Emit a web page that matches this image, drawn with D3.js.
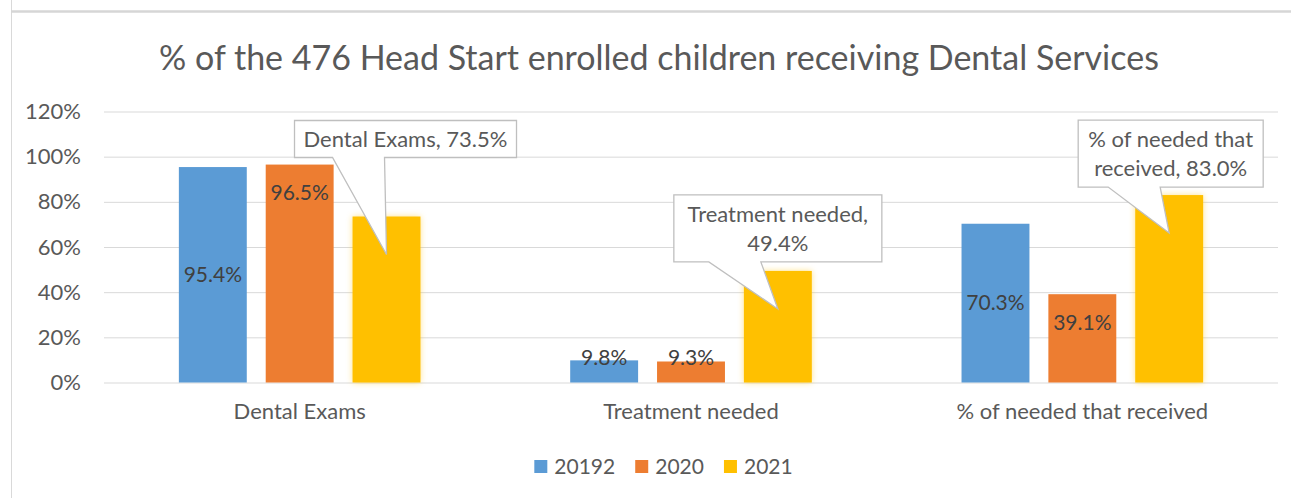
<!DOCTYPE html>
<html>
<head>
<meta charset="utf-8">
<script src="https://cdn.jsdelivr.net/npm/d3@7"></script>
<style>
  body { margin: 0; background: #fff; }
  svg { display: block; }
  text { font-family: Lato, "Open Sans", sans-serif; }
</style>
</head>
<body>
<div id="chart"></div>
<script>
const title = '% of the 476 Head Start enrolled children receiving Dental Services';
const categories = ['Dental Exams', 'Treatment needed', '% of needed that received'];
const years = ['20192', '2020', '2021'];
const values2019 = [95.4, 9.8, 70.3];
const values2020 = [96.5, 9.3, 39.1];
const values2021 = [73.5, 49.4, 83.0];
const yTicks = [0, 20, 40, 60, 80, 100, 120];

const colors = { '20192': '#5b9bd5', '2020': '#ed7d31', '2021': '#ffc000' };

// callout boxes for the 2021 series, placed relative to the bar top
const callouts = [
  { dx: -92, dy: -96, w: 222, h: 37, base: 38 },
  { dx: -104, dy: -76, w: 208, h: 67, base: 35 },
  { dx: -91, dy: -75, w: 185, h: 67, base: 30 }
];

const width = 1291;
const height = 498;
const plot = { left: 104, right: 1278, top: 111.5, bottom: 382.5 };
const labelSize = '22px';
const valueSize = '21px';

const series = [values2019, values2020, values2021];
const rows = categories.map((c, i) => ({
  cat: c,
  vals: years.map((y, j) => ({ year: y, v: series[j][i], cat: c, idx: i }))
}));

const svg = d3.select('#chart').append('svg')
  .attr('width', width)
  .attr('height', height);

// soft glow on the 2021 bars
const defs = svg.append('defs');
const glow = defs.append('filter').attr('id', 'glow')
  .attr('x', '-20%').attr('y', '-20%').attr('width', '140%').attr('height', '140%');
glow.append('feGaussianBlur').attr('in', 'SourceAlpha').attr('stdDeviation', 3).attr('result', 'b');
glow.append('feFlood').attr('flood-color', '#ffc000').attr('flood-opacity', 0.45);
glow.append('feComposite').attr('in2', 'b').attr('operator', 'in').attr('result', 'g');
const merge = glow.append('feMerge');
merge.append('feMergeNode').attr('in', 'g');
merge.append('feMergeNode').attr('in', 'SourceGraphic');

// frame
svg.append('line')
  .attr('x1', 11.5).attr('x2', 11.5).attr('y1', 0).attr('y2', height)
  .attr('stroke', '#d9d9d9');
svg.append('line')
  .attr('x1', 11).attr('x2', width).attr('y1', 11.5).attr('y2', 11.5)
  .attr('stroke', '#d6d6d6').attr('stroke-width', 2.5);

svg.append('text')
  .attr('x', 659).attr('y', 70)
  .attr('text-anchor', 'middle')
  .attr('fill', '#595959')
  .style('font-size', '34px')
  .text(title);

const x0 = d3.scaleBand().domain(categories).range([plot.left, plot.right]);
const x1 = d3.scaleBand().domain(years).range([0, x0.bandwidth()])
  .paddingInner(0.218).paddingOuter(0.862);
const y = d3.scaleLinear().domain([0, 120]).range([plot.bottom, plot.top]);

// gridlines + y labels
const yAxis = svg.append('g')
  .attr('transform', `translate(${plot.left},0)`)
  .call(d3.axisLeft(y).tickValues(yTicks).tickFormat(d => d + '%')
    .tickSize(-(plot.right - plot.left)).tickPadding(23));
yAxis.select('.domain').remove();
yAxis.selectAll('line').attr('stroke', '#d9d9d9');
yAxis.selectAll('text').attr('fill', '#595959').style('font-size', labelSize);

// category labels
const xAxis = svg.append('g')
  .attr('transform', `translate(0,${plot.bottom})`)
  .call(d3.axisBottom(x0).tickSize(0).tickPadding(21));
xAxis.select('.domain').remove();
xAxis.selectAll('text').attr('fill', '#595959').style('font-size', labelSize);

const groups = svg.append('g').selectAll('g')
  .data(rows)
  .join('g')
  .attr('transform', d => `translate(${x0(d.cat)},0)`);

groups.selectAll('rect')
  .data(d => d.vals)
  .join('rect')
  .attr('x', d => x1(d.year))
  .attr('y', d => y(d.v))
  .attr('width', x1.bandwidth())
  .attr('height', d => y(0) - y(d.v))
  .attr('fill', d => colors[d.year])
  .attr('filter', d => d.year === '2021' ? 'url(#glow)' : null);

// data labels: 2019 centred, 2020 inside end, kept above the axis
const labelY = d => {
  const pos = d.year === '20192' ? (y(d.v) + y(0)) / 2 : y(d.v) + 28;
  return Math.min(pos, y(0) - 25);
};
groups.selectAll('text.lbl')
  .data(d => d.vals.filter(v => v.year !== '2021'))
  .join('text')
  .attr('class', 'lbl')
  .attr('x', d => x1(d.year) + x1.bandwidth() / 2)
  .attr('y', labelY)
  .attr('dy', '0.35em')
  .attr('text-anchor', 'middle')
  .attr('fill', '#404040')
  .style('font-size', valueSize)
  .text(d => d.v.toFixed(1) + '%');

// callouts for 2021
const callG = svg.append('g');
rows.forEach((r, i) => {
  const d = r.vals[2];
  const cx = x0(r.cat) + x1(d.year) + x1.bandwidth() / 2;
  const ty = y(d.v);
  const c = callouts[i];
  const bx = cx + c.dx, by = ty + c.dy;
  const tip = [cx, ty + 38];
  const b0 = bx + c.base, b1 = b0 + 52;
  const path = [
    [bx, by], [bx + c.w, by], [bx + c.w, by + c.h], [b1, by + c.h],
    tip, [b0, by + c.h], [bx, by + c.h]
  ];
  callG.append('path')
    .attr('d', d3.line()(path) + 'Z')
    .attr('fill', '#fff')
    .attr('stroke', '#bfbfbf')
    .attr('stroke-width', 1.3);

  const t = callG.append('text')
    .attr('text-anchor', 'middle')
    .attr('fill', '#595959')
    .style('font-size', labelSize);
  // wrap words to fit the box
  const words = `${r.cat}, ${d.v.toFixed(1)}%`.split(' ');
  const lines = [];
  let cur = [];
  const probe = callG.append('text').style('font-size', labelSize);
  words.forEach(w => {
    const test = cur.concat(w).join(' ');
    probe.text(test);
    if (cur.length && probe.node().getComputedTextLength() > c.w - 12) {
      lines.push(cur.join(' '));
      cur = [w];
    } else {
      cur.push(w);
    }
  });
  lines.push(cur.join(' '));
  probe.remove();
  const lh = 29;
  const firstY = by + c.h / 2 - (lines.length - 1) * lh / 2;
  lines.forEach((ln, k) => {
    t.append('tspan')
      .attr('x', bx + c.w / 2)
      .attr('y', firstY + k * lh)
      .attr('dy', '0.35em')
      .text(ln);
  });
});

// legend
const legend = svg.append('g').attr('transform', 'translate(0,466.5)');
const items = legend.selectAll('g')
  .data(years)
  .join('g');
items.append('rect')
  .attr('y', -6.5).attr('width', 13).attr('height', 13)
  .attr('fill', d => colors[d]);
items.append('text')
  .attr('x', 20).attr('dy', '0.35em')
  .attr('fill', '#595959')
  .style('font-size', valueSize)
  .text(d => d);
let lx = 0;
const offs = [];
items.each(function () {
  offs.push(lx);
  lx += this.getBBox().width + 20;
});
lx -= 20;
const startX = 663.5 - lx / 2;
items.attr('transform', (d, i) => `translate(${startX + offs[i]},0)`);
</script>
</body>
</html>
